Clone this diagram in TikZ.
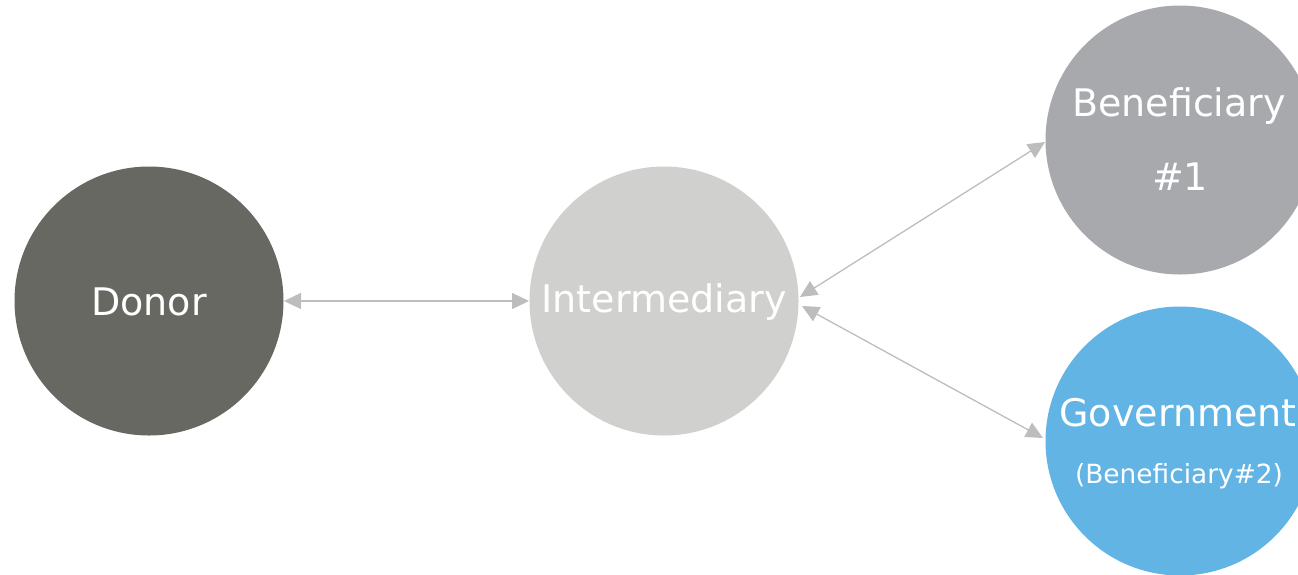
\documentclass[tikz,border=0pt]{standalone}
\usepackage{fontspec}
\setmainfont{DejaVu Sans}
\usetikzlibrary{arrows.meta,calc}
\definecolor{donorc}{HTML}{686862}
\definecolor{interc}{HTML}{D0D0CF}
\definecolor{benc}{HTML}{A7A9AD}
\definecolor{govc}{HTML}{62B4E4}
\definecolor{arrc}{HTML}{BDBDBD}
\tikzset{
  bubble/.style={circle,inner sep=0pt,minimum size=269pt,draw=none},
  bigtxt/.style={text=white,inner sep=0pt,font=\fontsize{38}{45}\selectfont},
  smalltxt/.style={text=white,inner sep=0pt,font=\fontsize{26.4}{30}\selectfont},
  link/.style={draw=arrc,line width=1.3pt,{Triangle[length=17pt,width=16pt]}-{Triangle[length=17pt,width=16pt]}}
}
\begin{document}
\begin{tikzpicture}[x=1pt,y=-1pt]
\useasboundingbox (0,0) rectangle (1298,574);
\node[bubble,fill=donorc] (donor) at (149,301) {};
\node[bubble,fill=interc] (inter) at (664,301) {};
\node[bubble,fill=benc] (ben) at (1180,140) {};
\node[bubble,fill=govc] (gov) at (1180,441) {};
\node[bigtxt] (tdonor) at (149,302) {Donor};
\node[bigtxt] (tinter) at (664,302) {Intermediary};
\node[bigtxt] (tben1) at (1179,106) {Beneficiary};
\node[bigtxt] (tben2) at (1180,177) {\#1};
\node[bigtxt] (tgov1) at (1178,413) {Government};
\node[smalltxt] (tgov2) at (1179,476) {(Beneficiary\#2)};
\coordinate (iu) at (800,297);
\coordinate (id) at (802,306);
\coordinate (bw) at (1045,142);
\coordinate (gw) at (1043,438);
\coordinate (de) at (284,301);
\coordinate (iw) at (529,301);
\draw[link] (de) -- (iw);
\draw[link] (iu) -- (bw);
\draw[link] (id) -- (gw);
\end{tikzpicture}
\end{document}
